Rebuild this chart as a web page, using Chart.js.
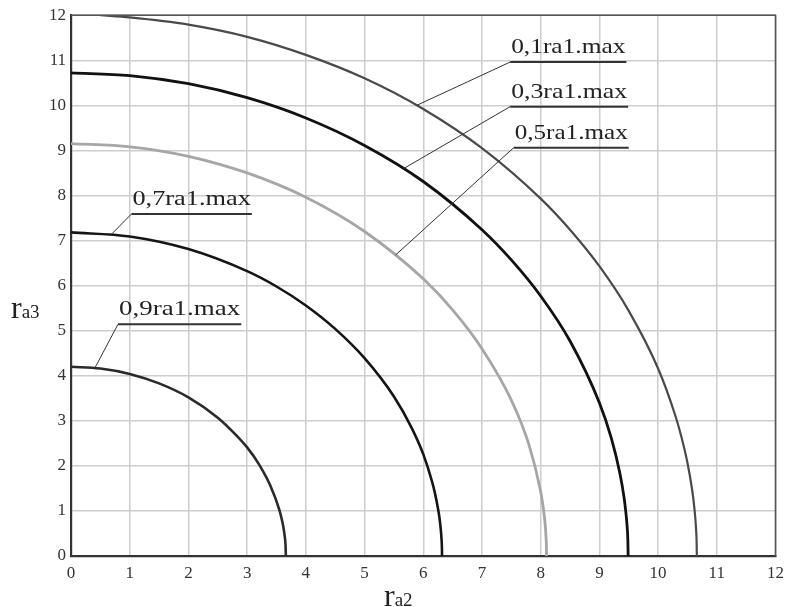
<!DOCTYPE html>
<html>
<head>
<meta charset="utf-8">
<script src="https://cdn.jsdelivr.net/npm/chart.js@4/dist/chart.umd.min.js"></script>
<style>
    body { margin: 0; background: #fff; }
    #wrap { position: relative; width: 791px; height: 607px; }
    .axis-title { position: absolute; font-family: "Liberation Serif", serif; color: #222; white-space: nowrap; line-height: 1; }
    .axis-title .r { font-size: 32px; }
    .axis-title .sub { font-size: 19px; }
</style>
</head>
<body>
<div id="wrap">
    <canvas id="chart" width="791" height="607"></canvas>
    <div class="axis-title" id="yTitle" style="left:11px; top:291px;"><span class="r">r</span><span class="sub">a3</span></div>
    <div class="axis-title" id="xTitle" style="left:384px; top:579px;"><span class="r">r</span><span class="sub">a2</span></div>
</div>
<script>
// values (r_a2 -> x, r_a3 -> y)
const seriesNames = ['0,1ra1.max', '0,3ra1.max', '0,5ra1.max', '0,7ra1.max', '0,9ra1.max'];

const x01 = [0.5, 1, 2, 3, 4, 5, 6, 7, 8, 8.5, 9, 9.5, 10, 10.3, 10.4, 10.5, 10.58, 10.62, 10.645, 10.657, 10.66];
const y01 = [12, 11.95, 11.79, 11.52, 11.12, 10.6, 9.92, 9.05, 7.93, 7.24, 6.43, 5.44, 4.16, 3.09, 2.63, 2.07, 1.47, 1.04, 0.64, 0.28, 0];

const x03 = [0, 1, 2, 3, 4, 5, 6, 7, 7.5, 8, 8.5, 9, 9.2, 9.35, 9.42, 9.45, 9.47, 9.485, 9.49];
const y03 = [10.72, 10.66, 10.48, 10.17, 9.72, 9.11, 8.31, 7.24, 6.57, 5.77, 4.77, 3.4, 2.63, 1.83, 1.3, 0.98, 0.7, 0.35, 0];

const x05 = [0, 1, 2, 3, 4, 5, 6, 6.5, 7, 7.5, 7.8, 8, 8.04, 8.07, 8.09, 8.098, 8.1];
const y05 = [9.15, 9.08, 8.87, 8.5, 7.96, 7.2, 6.15, 5.46, 4.6, 3.46, 2.47, 1.43, 1.11, 0.79, 0.45, 0.2, 0];

const x07 = [0, 1, 2, 3, 3.5, 4, 4.5, 5, 5.5, 5.8, 6, 6.15, 6.2, 6.25, 6.28, 6.3, 6.31, 6.318, 6.32];
const y07 = [7.18, 7.09, 6.81, 6.32, 5.98, 5.56, 5.04, 4.39, 3.54, 2.85, 2.26, 1.65, 1.39, 1.06, 0.81, 0.57, 0.4, 0.18, 0];

const x09 = [0, 0.5, 1, 1.5, 2, 2.5, 2.8, 3, 3.2, 3.4, 3.55, 3.6, 3.62, 3.64, 3.655, 3.66];
const y09 = [4.2, 4.16, 4.04, 3.83, 3.52, 3.07, 2.7, 2.41, 2.04, 1.55, 1.02, 0.76, 0.62, 0.44, 0.22, 0];

const tickValues = [0, 1, 2, 3, 4, 5, 6, 7, 8, 9, 10, 11, 12];

// callouts: point on curve, underline start/end x, underline y (data units)
const calloutAnchors = [
    [5.89, 10.0, 7.48, 9.46, 10.96],
    [5.67, 8.60, 7.48, 9.49, 9.97],
    [5.53, 6.68, 7.54, 9.50, 9.06],
    [0.69, 7.14, 1.03, 3.08, 7.59],
    [0.41, 4.18, 0.80, 2.90, 5.14]
];

const lineColors = ['#4a4a4a', '#111111', '#a6a6a6', '#151515', '#2a2a2a'];
const lineWidths = [2.2, 2.8, 2.8, 2.6, 2.6];

function pts(xs, ys) {
    return xs.map((x, i) => ({ x: x, y: ys[i] }));
}

const allX = [x01, x03, x05, x07, x09];
const allY = [y01, y03, y05, y07, y09];

const datasets = seriesNames.map((name, i) => ({
    label: name,
    data: pts(allX[i], allY[i]),
    showLine: true,
    borderColor: lineColors[i],
    borderWidth: lineWidths[i],
    pointRadius: 0,
    cubicInterpolationMode: 'monotone',
    fill: false
}));

// frame + callout labels
const calloutPlugin = {
    id: 'callouts',
    afterDatasetsDraw(chart) {
        const ctx = chart.ctx;
        const xs = chart.scales.x, ys = chart.scales.y;
        const a = chart.chartArea;
        ctx.save();
        // plot frame
        ctx.strokeStyle = '#555';
        ctx.lineWidth = 1.6;
        ctx.beginPath();
        ctx.moveTo(a.left, a.top);
        ctx.lineTo(a.right, a.top);
        ctx.lineTo(a.right, a.bottom);
        ctx.stroke();

        calloutAnchors.forEach((c, i) => {
            const px = xs.getPixelForValue(c[0]);
            const py = ys.getPixelForValue(c[1]);
            const ux0 = xs.getPixelForValue(c[2]);
            const ux1 = xs.getPixelForValue(c[3]);
            const uy = ys.getPixelForValue(c[4]);

            ctx.strokeStyle = '#333';
            ctx.lineWidth = 1;
            ctx.beginPath();
            ctx.moveTo(px, py);
            ctx.lineTo(ux0, uy);
            ctx.stroke();

            ctx.lineWidth = 2;
            ctx.beginPath();
            ctx.moveTo(ux0, uy);
            ctx.lineTo(ux1, uy);
            ctx.stroke();

            ctx.font = '22px "Liberation Serif", serif';
            ctx.fillStyle = '#222';
            ctx.textBaseline = 'alphabetic';
            const w = ctx.measureText(seriesNames[i]).width;
            const sx = (ux1 - ux0 - 2) / w;
            ctx.save();
            ctx.translate(ux0 + 1, uy - 9);
            ctx.scale(sx, 1);
            ctx.fillText(seriesNames[i], 0, 0);
            ctx.restore();
        });
        ctx.restore();
    }
};

const tickFont = { family: '"Liberation Serif", serif', size: 17 };

new Chart(document.getElementById('chart').getContext('2d'), {
    type: 'scatter',
    data: { datasets: datasets },
    options: {
        responsive: false,
        animation: false,
        layout: { padding: { top: 15, right: 13, left: 0, bottom: 0 } },
        plugins: { legend: { display: false }, tooltip: { enabled: false } },
        scales: {
            x: {
                type: 'linear',
                min: 0,
                max: 12,
                afterBuildTicks: s => { s.ticks = tickValues.map(v => ({ value: v })); },
                afterFit: s => { s.height = 51; },
                ticks: { font: tickFont, color: '#333', padding: 7, maxRotation: 0 },
                grid: { color: '#cdcdcd', lineWidth: 1.5, drawTicks: false },
                border: { color: '#333', width: 2.2 }
            },
            y: {
                type: 'linear',
                min: 0,
                max: 12,
                afterBuildTicks: s => { s.ticks = tickValues.map(v => ({ value: v })); },
                afterFit: s => { s.width = 71; },
                ticks: { font: tickFont, color: '#333', padding: 5 },
                grid: { color: '#cdcdcd', lineWidth: 1.5, drawTicks: false },
                border: { color: '#333', width: 2.2 }
            }
        }
    },
    plugins: [calloutPlugin]
});
</script>
</body>
</html>
